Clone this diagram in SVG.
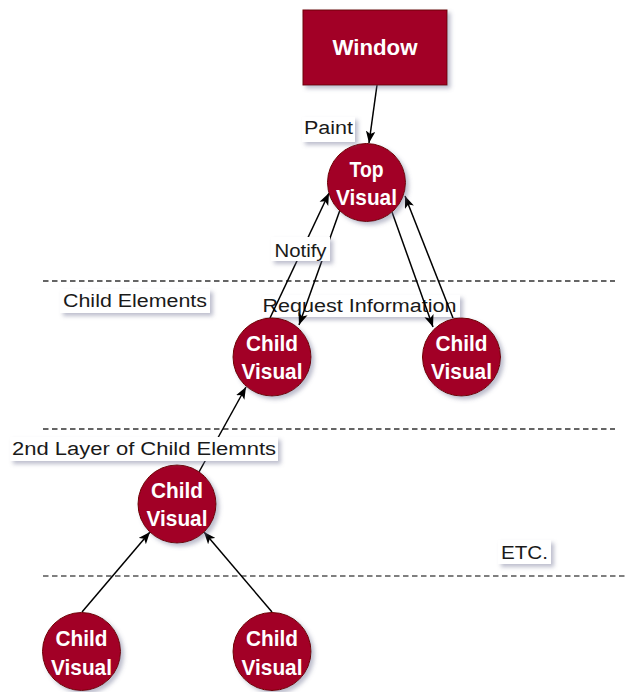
<svg xmlns="http://www.w3.org/2000/svg" width="628" height="692" viewBox="0 0 628 692">
<defs>
<filter id="sh" x="-20%" y="-30%" width="150%" height="170%"><feDropShadow dx="3" dy="3" stdDeviation="2" flood-color="#6b7090" flood-opacity="0.45"/></filter>
<marker id="arr" markerUnits="userSpaceOnUse" markerWidth="12" markerHeight="10" refX="10" refY="4" orient="auto" viewBox="0 0 10 8"><path d="M0,0 L10,4 L0,8 L2.5,4 Z" fill="#000"/></marker>
</defs>
<style>
.node{fill:#a20025;stroke:#6f0000;stroke-width:1;filter:url(#sh)}
.nt{font-family:"Liberation Sans",Arial,sans-serif;font-weight:bold;font-size:22px;fill:#fff;text-anchor:middle}
.edge{stroke:#000;stroke-width:1.5;fill:none;marker-end:url(#arr)}
.div{stroke:#333;stroke-width:1.5;stroke-dasharray:5.5 3.5;fill:none}
.lb{fill:#fff;filter:url(#sh)}
.lt{font-family:"Liberation Sans",Arial,sans-serif;font-size:18px;fill:#1a1a1a;text-anchor:middle}
</style>
<rect width="628" height="692" fill="#fff"/>
<g id="dividers">
<line class="div" x1="43" y1="281" x2="615" y2="281"/>
<line class="div" x1="43" y1="429" x2="615" y2="429"/>
<line class="div" x1="43" y1="576" x2="628" y2="576" style="stroke:#555"/>
</g>
<g id="label-request">
<rect class="lb" x="262" y="295" width="198" height="22"/>
<text class="lt" x="359.5" y="312" textLength="194" lengthAdjust="spacingAndGlyphs">Request Information</text>
</g>
<g id="connectors">
<path class="edge" d="M377,85 L369,143"/>
<path class="edge" d="M270,318 L329,193"/>
<path class="edge" d="M340,210 L299,325"/>
<path class="edge" d="M392,212 L433,327"/>
<path class="edge" d="M453,318 L405,196"/>
<path class="edge" d="M199,472 L246,387"/>
<path class="edge" d="M82,612 L150,532"/>
<path class="edge" d="M272,612 L204,532"/>
</g>
<g id="window">
<rect class="node" x="303" y="10" width="144" height="75"/>
<text class="nt" x="375" y="55" textLength="85" lengthAdjust="spacingAndGlyphs">Window</text>
</g>
<g id="top-visual">
<circle class="node" cx="366.5" cy="182.5" r="39"/>
<text class="nt" x="366.5" y="177" textLength="34" lengthAdjust="spacingAndGlyphs">Top</text>
<text class="nt" x="366.5" y="204.5" textLength="61" lengthAdjust="spacingAndGlyphs">Visual</text>
</g>
<g id="child-l1">
<circle class="node" cx="272" cy="357" r="39"/>
<text class="nt" x="272" y="351" textLength="52" lengthAdjust="spacingAndGlyphs">Child</text>
<text class="nt" x="272" y="379" textLength="61" lengthAdjust="spacingAndGlyphs">Visual</text>
</g>
<g id="child-r1">
<circle class="node" cx="461.5" cy="357" r="39"/>
<text class="nt" x="461.5" y="351" textLength="52" lengthAdjust="spacingAndGlyphs">Child</text>
<text class="nt" x="461.5" y="379" textLength="61" lengthAdjust="spacingAndGlyphs">Visual</text>
</g>
<g id="child-l2">
<circle class="node" cx="177" cy="504" r="39"/>
<text class="nt" x="177" y="498" textLength="52" lengthAdjust="spacingAndGlyphs">Child</text>
<text class="nt" x="177" y="526" textLength="61" lengthAdjust="spacingAndGlyphs">Visual</text>
</g>
<g id="child-b1">
<circle class="node" cx="81.5" cy="651.5" r="39"/>
<text class="nt" x="81.5" y="646" textLength="52" lengthAdjust="spacingAndGlyphs">Child</text>
<text class="nt" x="81.5" y="675" textLength="61" lengthAdjust="spacingAndGlyphs">Visual</text>
</g>
<g id="child-b2">
<circle class="node" cx="272" cy="651.5" r="39"/>
<text class="nt" x="272" y="646" textLength="52" lengthAdjust="spacingAndGlyphs">Child</text>
<text class="nt" x="272" y="675" textLength="61" lengthAdjust="spacingAndGlyphs">Visual</text>
</g>
<g id="labels">
<rect class="lb" x="302" y="117" width="53" height="25"/>
<text class="lt" x="328.5" y="134" textLength="49" lengthAdjust="spacingAndGlyphs">Paint</text>
<rect class="lb" x="271" y="237" width="59" height="24"/>
<text class="lt" x="300.5" y="256.5" textLength="52" lengthAdjust="spacingAndGlyphs">Notify</text>
<rect class="lb" x="60" y="289" width="150" height="24"/>
<text class="lt" x="135" y="307" textLength="144" lengthAdjust="spacingAndGlyphs">Child Elements</text>
<rect class="lb" x="10" y="437" width="268" height="24"/>
<text class="lt" x="144" y="455" textLength="264" lengthAdjust="spacingAndGlyphs">2nd Layer of Child Elemnts</text>
<rect class="lb" x="498" y="540" width="53" height="24"/>
<text class="lt" x="524.5" y="559" textLength="47" lengthAdjust="spacingAndGlyphs">ETC.</text>
</g>
</svg>
